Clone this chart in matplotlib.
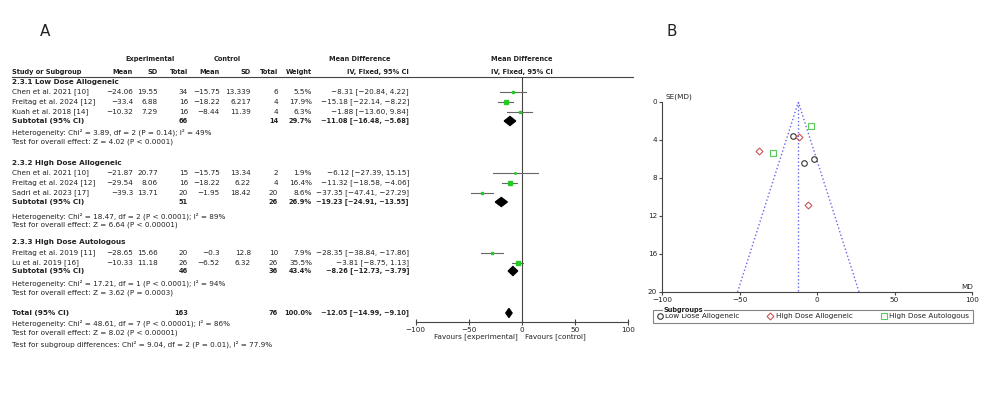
import matplotlib.pyplot as plt
from matplotlib.patches import Polygon
from matplotlib.lines import Line2D

plt.rcParams['font.family'] = ['DejaVu Sans']

# forest plot data
groups = ['2.3.1 Low Dose Allogeneic', '2.3.2 High Dose Allogeneic', '2.3.3 High Dose Autologous']
study_group = [0, 0, 0, 1, 1, 1, 2, 2]
studies = ['Chen et al. 2021 [10]', 'Freitag et al. 2024 [12]', 'Kuah et al. 2018 [14]',
           'Chen et al. 2021 [10]', 'Freitag et al. 2024 [12]', 'Sadri et al. 2023 [17]',
           'Freitag et al. 2019 [11]', 'Lu et al. 2019 [16]']
exp_mean = [-24.06, -33.4, -10.32, -21.87, -29.54, -39.3, -28.65, -10.33]
exp_sd = [19.55, 6.88, 7.29, 20.77, 8.06, 13.71, 15.66, 11.18]
exp_n = [34, 16, 16, 15, 16, 20, 20, 26]
ctl_mean = [-15.75, -18.22, -8.44, -15.75, -18.22, -1.95, -0.3, -6.52]
ctl_sd = [13.339, 6.217, 11.39, 13.34, 6.22, 18.42, 12.8, 6.32]
ctl_n = [6, 4, 4, 2, 4, 20, 10, 26]
weight = [5.5, 17.9, 6.3, 1.9, 16.4, 8.6, 7.9, 35.5]
md = [-8.31, -15.18, -1.88, -6.12, -11.32, -37.35, -28.35, -3.81]
md_lo = [-20.84, -22.14, -13.60, -27.39, -18.58, -47.41, -38.84, -8.75]
md_hi = [4.22, -8.22, 9.84, 15.15, -4.06, -27.29, -17.86, 1.13]
se = [6.39, 3.55, 5.98, 10.85, 3.70, 5.13, 5.35, 2.52]

sub_exp_n = [66, 51, 46]
sub_ctl_n = [14, 26, 36]
sub_weight = [29.7, 26.9, 43.4]
sub_md = [-11.08, -19.23, -8.26]
sub_lo = [-16.48, -24.91, -12.73]
sub_hi = [-5.68, -13.55, -3.79]
het = ['Heterogeneity: Chi² = 3.89, df = 2 (P = 0.14); I² = 49%',
       'Heterogeneity: Chi² = 18.47, df = 2 (P < 0.0001); I² = 89%',
       'Heterogeneity: Chi² = 17.21, df = 1 (P < 0.0001); I² = 94%']
overall = ['Test for overall effect: Z = 4.02 (P < 0.0001)',
           'Test for overall effect: Z = 6.64 (P < 0.00001)',
           'Test for overall effect: Z = 3.62 (P = 0.0003)']

total_exp_n, total_ctl_n, total_weight = 163, 76, 100.0
total_md, total_lo, total_hi = -12.05, -14.99, -9.10
total_notes = ['Heterogeneity: Chi² = 48.61, df = 7 (P < 0.00001); I² = 86%',
               'Test for overall effect: Z = 8.02 (P < 0.00001)',
               'Test for subgroup differences: Chi² = 9.04, df = 2 (P = 0.01), I² = 77.9%']

subgroup_names = ['Low Dose Allogeneic', 'High Dose Allogeneic', 'High Dose Autologous']

# layout in pixels (from top-left)
W, H = 986, 394
def fx(x):
    return x / W
def fy(y):
    return 1 - y / H

group_y = [82, 163, 242]
study_y = [92, 102, 112, 173, 183, 193, 253, 263]
sub_y = [121, 202, 271]
het_y = [132, 216, 283]
test_y = [142, 225, 293]
total_y = 313
note_y = [323, 333, 344]

FS = 5.2
FS_B = 4.8   # bold number columns (DejaVu bold is wide)
TXT = '#222222'

def m(v):
    return str(v).replace('-', '\u2212')

def ci(a, lo, hi):
    return m(f'{a:.2f} [{lo:.2f}, {hi:.2f}]')

fig = plt.figure(figsize=(9.86, 3.94), dpi=100)

def t(x, y, s, ha='left', bold=False, size=FS, **kw):
    fig.text(fx(x), fy(y), s, ha=ha, va='center', fontsize=size,
             fontweight='bold' if bold else 'normal', color=TXT, **kw)

# columns (right edges)
c_em, c_esd, c_en, c_cm, c_csd, c_cn, c_w, c_ci = 133, 158, 188, 220, 251, 278, 312, 409

t(40, 31, 'A', size=11)
t(667, 31, 'B', size=11)

# headers
t(150, 59, 'Experimental', ha='center', bold=True, size=FS_B)
t(227, 59, 'Control', ha='center', bold=True, size=FS_B)
t(360, 59, 'Mean Difference', ha='center', bold=True, size=FS_B)
t(522, 59, 'Mean Difference', ha='center', bold=True, size=FS_B)
t(12, 72, 'Study or Subgroup', bold=True, size=FS_B)
for x, s in zip([c_em, c_esd, c_en, c_cm, c_csd, c_cn, c_w, c_ci],
                ['Mean', 'SD', 'Total', 'Mean', 'SD', 'Total', 'Weight', 'IV, Fixed, 95% CI']):
    t(x, 72, s, ha='right', bold=True, size=FS_B)
t(522, 72, 'IV, Fixed, 95% CI', ha='center', bold=True, size=FS_B)
fig.add_artist(Line2D([fx(12), fx(633)], [fy(77), fy(77)], color='#444444', lw=0.8))

for g in range(3):
    t(12, group_y[g], groups[g], bold=True)
    t(12, sub_y[g], 'Subtotal (95% CI)', bold=True)
    t(c_en, sub_y[g], str(sub_exp_n[g]), ha='right', bold=True, size=FS_B)
    t(c_cn, sub_y[g], str(sub_ctl_n[g]), ha='right', bold=True, size=FS_B)
    t(c_w, sub_y[g], f'{sub_weight[g]:.1f}%', ha='right', bold=True, size=FS_B)
    t(c_ci, sub_y[g], ci(sub_md[g], sub_lo[g], sub_hi[g]), ha='right', bold=True, size=FS_B)
    t(12, het_y[g], het[g])
    t(12, test_y[g], overall[g])

for i in range(len(studies)):
    y = study_y[i]
    t(12, y, studies[i])
    t(c_em, y, m(exp_mean[i]), ha='right')
    t(c_esd, y, m(exp_sd[i]), ha='right')
    t(c_en, y, str(exp_n[i]), ha='right')
    t(c_cm, y, m(ctl_mean[i]), ha='right')
    t(c_csd, y, m(ctl_sd[i]), ha='right')
    t(c_cn, y, str(ctl_n[i]), ha='right')
    t(c_w, y, f'{weight[i]:.1f}%', ha='right')
    t(c_ci, y, ci(md[i], md_lo[i], md_hi[i]), ha='right')

t(12, total_y, 'Total (95% CI)', bold=True)
t(c_en, total_y, str(total_exp_n), ha='right', bold=True, size=FS_B)
t(c_cn, total_y, str(total_ctl_n), ha='right', bold=True, size=FS_B)
t(c_w, total_y, f'{total_weight:.1f}%', ha='right', bold=True, size=FS_B)
t(c_ci, total_y, ci(total_md, total_lo, total_hi), ha='right', bold=True, size=FS_B)
for s, y in zip(total_notes, note_y):
    t(12, y, s)

# forest plot axes: x in MD units, y in pixel rows
axf = fig.add_axes([fx(415.7), fy(322), fx(627.7) - fx(415.7), (322 - 77) / H])
axf.set_xlim(-100, 100)
axf.set_ylim(322, 77)
axf.axvline(0, color='#444444', lw=0.8)
for i in range(len(studies)):
    y = study_y[i]
    axf.plot([md_lo[i], md_hi[i]], [y, y], color='#666666', lw=0.8)
    side = max(1.4, 5.0 * (weight[i] / 35.5) ** 0.5) * 0.72
    axf.plot(md[i], y, marker='s', ms=side, color='#22cc22', mec='#22cc22', ls='none')
for g in range(3):
    y = sub_y[g]
    axf.add_patch(Polygon([(sub_lo[g], y), (sub_md[g], y - 4.5), (sub_hi[g], y), (sub_md[g], y + 4.5)],
                          closed=True, color='black'))
axf.add_patch(Polygon([(total_lo, total_y), (total_md, total_y - 4.5), (total_hi, total_y),
                       (total_md, total_y + 4.5)], closed=True, color='black'))
for s in ['left', 'right', 'top']:
    axf.spines[s].set_visible(False)
axf.spines['bottom'].set_color('#444444')
axf.spines['bottom'].set_linewidth(0.8)
axf.set_yticks([])
axf.set_xticks([-100, -50, 0, 50, 100])
axf.set_xticklabels([m(v) for v in [-100, -50, 0, 50, 100]])
axf.tick_params(axis='x', direction='inout', length=5, width=0.8, color='#444444',
                labelsize=FS, labelcolor=TXT, pad=1)
t(518, 337, 'Favours [experimental]', ha='right')
t(525, 337, 'Favours [control]')

# funnel plot
axp = fig.add_axes([fx(662), fy(292), fx(972) - fx(662), (292 - 102) / H])
axp.set_xlim(-100, 100)
axp.set_ylim(20, 0)
se_max = 20
axp.plot([total_md, total_md], [0, se_max], color='#6666ee', ls=':', lw=1)
axp.plot([total_md - 1.96 * se_max, total_md, total_md + 1.96 * se_max], [se_max, 0, se_max],
         color='#6666ee', ls=':', lw=1)
styles = [dict(marker='o', mec='#333333'), dict(marker='D', mec='#cc5555'), dict(marker='s', mec='#55cc55')]
for g in range(3):
    xs = [md[i] for i in range(len(md)) if study_group[i] == g]
    ys = [se[i] for i in range(len(se)) if study_group[i] == g]
    st = styles[g]
    axp.plot(xs, ys, ls='none', marker=st['marker'], mfc='none', mec=st['mec'], mew=0.8,
             ms=4 if st['marker'] != 'D' else 3.5, clip_on=False)
for s in ['right', 'top']:
    axp.spines[s].set_visible(False)
for s in ['left', 'bottom']:
    axp.spines[s].set_color('#444444')
    axp.spines[s].set_linewidth(0.8)
axp.set_xticks([-100, -50, 0, 50, 100])
axp.set_yticks([0, 4, 8, 12, 16, 20])
axp.set_xticklabels([m(v) for v in [-100, -50, 0, 50, 100]])
axp.tick_params(direction='out', length=2.5, width=0.8, color='#444444', labelsize=FS,
                labelcolor=TXT, pad=1)
t(665, 97, 'SE(MD)')
t(973, 287, 'MD', ha='right')

handles = [Line2D([], [], ls='none', mfc='none', mew=0.8, mec=st['mec'], marker=st['marker'],
                  ms=4 if st['marker'] != 'D' else 3.5) for st in styles]
leg = axp.legend(handles, subgroup_names, ncol=3, mode='expand', loc='upper left',
                 bbox_to_anchor=(fx(653), fy(310), fx(973) - fx(653), 0.001),
                 bbox_transform=fig.transFigure, borderaxespad=0, fontsize=FS,
                 handlelength=0.8, handletextpad=0.4, borderpad=0.5, fancybox=False,
                 frameon=True)
leg.get_frame().set_edgecolor('#666666')
leg.get_frame().set_linewidth(0.8)
for tx in leg.get_texts():
    tx.set_color(TXT)
fig.text(fx(664), fy(310), 'Subgroups', ha='left', va='center', fontsize=FS_B, fontweight='bold',
         color=TXT, bbox=dict(facecolor='white', edgecolor='none', pad=0.5), zorder=10)

fig.savefig('out.png', dpi=100)
